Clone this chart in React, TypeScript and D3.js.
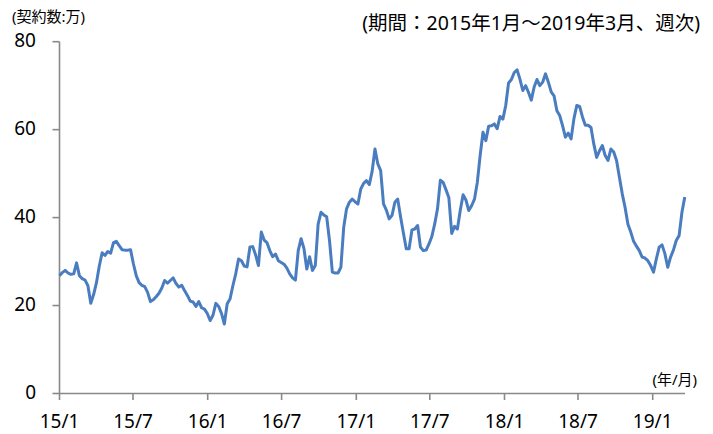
import React, { useEffect, useRef } from 'react';
import * as d3 from 'd3';

// weekly contracts (10k), 2015/1 - 2019/3
const contracts = [
  26.8, 27.5, 28, 27.4, 27.1, 27.2, 29.7, 26.8, 26.1, 25.8,
  24.5, 20.5, 22.5, 25.2, 29, 32, 31.4, 32.3, 31.9, 34.3,
  34.6, 33.6, 32.7, 32.6, 32.6, 32.7, 29.5, 26.8, 25.2, 24.6,
  24.3, 23, 20.9, 21.3, 22, 22.8, 24, 25.7, 25.1, 25.7,
  26.3, 25, 24.2, 24.6, 23.4, 22.3, 21, 20.8, 19.8, 20.9,
  19.5, 19.2, 18.2, 16.6, 17.8, 20.5, 19.8, 18.2, 15.8, 20.4,
  21.5, 24.5, 27.2, 30.6, 30.2, 29, 28.8, 33.3, 33.4, 31.5,
  29.1, 36.7, 34.9, 34.3, 32.5, 31.1, 31.7, 30.2, 29.8, 29.4,
  28.5, 27.2, 26.3, 25.8, 32.5, 35.2, 33, 28.3, 31.1, 28,
  29.1, 38.5, 41.2, 40.6, 40.2, 34.8, 27.6, 27.4, 27.4, 28.7,
  37.8, 42, 43.5, 44.2, 43.6, 43.1, 46.5, 47.8, 48.4, 47.5,
  50.5, 55.6, 52.2, 50.7, 43.1, 41.7, 39.7, 40.5, 43.5, 44.2,
  40.2, 36.5, 32.9, 32.9, 37.2, 37.4, 38.2, 33.3, 32.5, 32.6,
  34, 35.7, 38.5, 42, 48.5, 48, 46.3, 44.5, 36.4, 38,
  37.4, 41.6, 45.2, 44, 41.6, 42.7, 44.2, 48, 54.1, 59.4,
  57.5, 60.8, 60.9, 61.3, 60.2, 63, 62.4, 65.5, 70.6, 71.4,
  73, 73.6, 71.5, 68.9, 70, 68.5, 66.7, 69.7, 71.4, 70,
  70.8, 72.7, 70.8, 68.6, 67.7, 64.3, 63.2, 60.9, 58.3, 59.2,
  57.9, 62.5, 65.5, 65.3, 62.9, 61, 61, 60.5, 56.7, 53.7,
  55.2, 56.4, 54.1, 53, 55.6, 54.9, 53, 49.2, 45.4, 42.3,
  38.5, 36.7, 34.6, 33.5, 32.5, 31, 30.8, 30.2, 29.1, 27.6,
  30.6, 33.3, 33.8, 31.8, 28.7, 31, 32.6, 34.8, 35.9, 41.2,
  44.7
];

const xTickLabels = ['15/1', '15/7', '16/1', '16/7', '17/1', '17/7', '18/1', '18/7', '19/1'];
const yTicks = [0, 20, 40, 60, 80];

const unitLabel = '(契約数:万)';
const periodLabel = '(期間：2015年1月～2019年3月、週次)';
const xUnitLabel = '(年/月)';

const font = "'Noto Sans', 'Noto Sans CJK JP', sans-serif";

function App() {
  const ref = useRef(null);

  useEffect(() => {
    const svg = d3.select(ref.current);
    svg.selectAll('*').remove();

    const parseTick = (s) => {
      const [yy, mm] = s.split('/').map(Number);
      return new Date(2000 + yy, mm - 1, 1);
    };
    const tickDates = xTickLabels.map(parseTick);
    const start = tickDates[0];
    const dates = contracts.map((_, i) => d3.timeDay.offset(start, i * 7));

    const x = d3.scaleTime()
      .domain([tickDates[0], tickDates[tickDates.length - 1]])
      .range([59.5, 652.7]);
    const y = d3.scaleLinear().domain([0, 80]).range([393.5, 41.7]);

    const axisColor = '#898989';
    const g = svg.append('g');

    // y axis
    g.append('line')
      .attr('x1', x(start)).attr('x2', x(start))
      .attr('y1', y(80)).attr('y2', y(0))
      .attr('stroke', axisColor).attr('stroke-width', 1.6);
    g.selectAll('.ytick')
      .data(yTicks)
      .enter().append('line')
      .attr('x1', x(start) - 7).attr('x2', x(start))
      .attr('y1', (d) => y(d)).attr('y2', (d) => y(d))
      .attr('stroke', axisColor).attr('stroke-width', 1.6);
    g.selectAll('.ylabel')
      .data(yTicks)
      .enter().append('text')
      .attr('x', 36)
      .attr('y', (d) => y(d) + 5)
      .attr('text-anchor', 'end')
      .attr('font-family', font)
      .attr('font-size', 19)
      .attr('fill', '#000')
      .text((d) => d);

    // x axis
    g.append('line')
      .attr('x1', x(start)).attr('x2', 685)
      .attr('y1', y(0)).attr('y2', y(0))
      .attr('stroke', axisColor).attr('stroke-width', 1.6);
    g.selectAll('.xtick')
      .data(tickDates)
      .enter().append('line')
      .attr('x1', (d) => x(d)).attr('x2', (d) => x(d))
      .attr('y1', y(0)).attr('y2', y(0) + 6.5)
      .attr('stroke', axisColor).attr('stroke-width', 1.6);
    g.selectAll('.xlabel')
      .data(xTickLabels)
      .enter().append('text')
      .attr('x', (d, i) => x(tickDates[i]))
      .attr('y', 428)
      .attr('text-anchor', 'middle')
      .attr('font-family', font)
      .attr('font-size', 19)
      .attr('fill', '#000')
      .text((d) => d);

    const line = d3.line()
      .x((d, i) => x(dates[i]))
      .y((d) => y(d));

    g.append('path')
      .datum(contracts)
      .attr('fill', 'none')
      .attr('stroke', '#4A7DBF')
      .attr('stroke-width', 3)
      .attr('stroke-linejoin', 'round')
      .attr('d', line);

    svg.append('text')
      .attr('x', 12).attr('y', 22)
      .attr('font-family', font).attr('font-size', 15)
      .text(unitLabel);
    svg.append('text')
      .attr('x', 700).attr('y', 30)
      .attr('text-anchor', 'end')
      .attr('font-family', font).attr('font-size', 19.5)
      .text(periodLabel);
    svg.append('text')
      .attr('x', 697).attr('y', 385)
      .attr('text-anchor', 'end')
      .attr('font-family', font).attr('font-size', 15)
      .text(xUnitLabel);
  }, []);

  return (
    <svg ref={ref} width="713" height="434"
      style={{ position: 'absolute', left: 0, top: 0, background: '#fff' }} />
  );
}

export default App;
